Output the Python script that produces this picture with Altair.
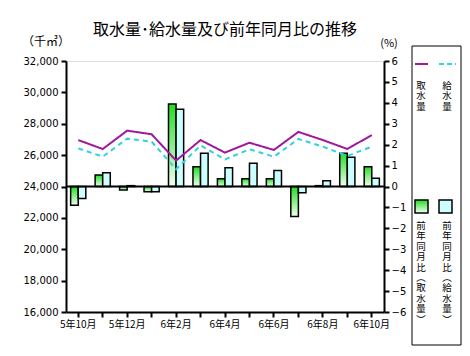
import altair as alt
import pandas as pd

months = ["5年10月", "5年11月", "5年12月", "6年1月", "6年2月", "6年3月", "6年4月",
          "6年5月", "6年6月", "6年7月", "6年8月", "6年9月", "6年10月"]
shown_labels = ["5年10月", "5年12月", "6年2月", "6年4月", "6年6月", "6年8月", "6年10月"]
intake = [26960, 26390, 27560, 27330, 25650, 26960, 26160, 26790, 26330, 27480, 26960, 26390, 27280]
supply = [26430, 25900, 27050, 26860, 25100, 26620, 25730, 26370, 25900, 27030, 26540, 25950, 26540]
intake_yoy = [-0.90, 0.55, -0.17, -0.25, 3.94, 0.94, 0.37, 0.37, 0.37, -1.44, 0.04, 1.59, 0.95]
supply_yoy = [-0.57, 0.66, 0.04, -0.25, 3.69, 1.59, 0.90, 1.11, 0.76, -0.30, 0.28, 1.40, 0.39]
baseline_value = [24000]

left_ticks = list(range(16000, 32001, 2000))
right_ticks = list(range(-6, 7))

JP = "Noto Sans CJK JP"
NUM = "DejaVu Sans"
PURPLE = "#a0189c"
CYAN = "#33d0dd"
LCYAN = "#ccffff"

green_grad = alt.LinearGradient(
    gradient="linear", x1=0, x2=0, y1=0, y2=1,
    stops=[alt.GradientStop(offset=0, color="#22dd22"),
           alt.GradientStop(offset=1, color="#f0fff0")])

lines_df = pd.DataFrame({
    "month": months * 2,
    "series": ["取水量"] * 13 + ["給水量"] * 13,
    "value": intake + supply,
})
bars_df = pd.DataFrame({
    "month": months * 2,
    "series": ["取水量"] * 13 + ["給水量"] * 13,
    "pct": intake_yoy + supply_yoy,
})

xscale = alt.Scale(domain=months, paddingInner=0.38, paddingOuter=0.19)
label_list = "[" + ",".join("'" + s + "'" for s in shown_labels) + "]"
xaxis = alt.Axis(title=None, labelAngle=0, labelFont=JP, labelFontSize=10,
                 labelColor="black", tickColor="black", tickSize=5, tickWidth=2,
                 domainColor="black", domainWidth=2, labelPadding=2,
                 labelExpr=f"indexof({label_list}, datum.value) >= 0 ? datum.value : ''")

left_scale = alt.Scale(domain=[16000, 32000], nice=False, zero=False)
left_axis = alt.Axis(orient="left", title=None, values=left_ticks, format=",.0f", grid=False,
                     labelFont=NUM, labelFontSize=10, labelColor="black",
                     tickColor="black", tickSize=5, tickWidth=2,
                     domainColor="black", domainWidth=2, labelPadding=3)

bars = alt.Chart(bars_df).mark_bar(stroke="black", strokeWidth=1.5).encode(
    x=alt.X("month:N", sort=months, scale=xscale, axis=xaxis),
    xOffset=alt.XOffset("series:N", sort=["取水量", "給水量"]),
    y=alt.Y("pct:Q", scale=alt.Scale(domain=[-6, 6], nice=False),
            axis=alt.Axis(orient="right", title=None, values=right_ticks, format="d", grid=False,
                          labelFont=NUM, labelFontSize=10, labelColor="black",
                          tickColor="black", tickSize=5, tickWidth=2,
                          domainColor="black", domainWidth=2, labelPadding=2)),
    fill=alt.condition("datum.series == '取水量'", alt.value(green_grad), alt.value(LCYAN)),
)

zero = alt.Chart(pd.DataFrame({"value": baseline_value})).mark_rule(color="black", strokeWidth=2).encode(
    y=alt.Y("value:Q", scale=left_scale, axis=left_axis),
)

lines = alt.Chart(lines_df).mark_line(strokeWidth=2).encode(
    x=alt.X("month:N", sort=months, scale=xscale, axis=xaxis),
    y=alt.Y("value:Q", scale=left_scale, axis=left_axis),
    color=alt.Color("series:N", scale=alt.Scale(domain=["取水量", "給水量"], range=[PURPLE, CYAN]),
                    legend=None),
    strokeDash=alt.StrokeDash("series:N", scale=alt.Scale(domain=["取水量", "給水量"],
                                                           range=[[1, 0], [5, 4]]), legend=None),
)

one = pd.DataFrame({"a": [0]})


def txt(s, x, y, size=10, lh=None, align="center", baseline="top"):
    kw = dict(font=JP, fontSize=size, align=align, baseline=baseline, color="black")
    if lh is not None:
        kw["lineBreak"] = "\n"
        kw["lineHeight"] = lh
    return alt.Chart(one).mark_text(**kw).encode(
        x=alt.value(x), y=alt.value(y), text=alt.value(s))


legend_parts = [
    alt.Chart(one).mark_rect(fill="white", stroke="black", strokeWidth=1).encode(
        x=alt.value(346), x2=alt.value(395), y=alt.value(-15), y2=alt.value(284)),
    alt.Chart(one).mark_rule(color=PURPLE, strokeWidth=2).encode(
        x=alt.value(349), x2=alt.value(362), y=alt.value(3)),
    alt.Chart(one).mark_rule(color=CYAN, strokeWidth=2, strokeDash=[5, 3]).encode(
        x=alt.value(373), x2=alt.value(390), y=alt.value(3)),
    txt("取\n水\n量", 355, 20, size=9.5, lh=10.4),
    txt("給\n水\n量", 381, 20, size=9.5, lh=10.4),
    alt.Chart(one).mark_rect(fill=green_grad, stroke="black", strokeWidth=1.5).encode(
        x=alt.value(349), x2=alt.value(362), y=alt.value(139), y2=alt.value(152)),
    alt.Chart(one).mark_rect(fill=LCYAN, stroke="black", strokeWidth=1.5).encode(
        x=alt.value(373), x2=alt.value(386), y=alt.value(139), y2=alt.value(152)),
    txt("前\n年\n同\n月\n比\n︵\n取\n水\n量\n︶", 355, 160, size=9.5, lh=10.4),
    txt("前\n年\n同\n月\n比\n︵\n給\n水\n量\n︶", 381, 160, size=9.5, lh=10.4),
    txt("取水量･給水量及び前年同月比の推移", 159, -31, size=16, baseline="middle"),
    txt("（千㎥）", -20, -19, size=12, baseline="middle"),
    txt("(%)", 323, -17, size=11, baseline="middle"),
]

chart = alt.layer(
    bars,
    alt.layer(zero, lines),
    *legend_parts,
).resolve_scale(y="independent").properties(
    width=318, height=251,
    autosize=alt.AutoSizeParams(type="none"),
    padding={"left": 58, "top": 53, "right": 78, "bottom": 36},
).configure_view(stroke="black", strokeWidth=2).configure(background="white")

chart.save("out.html", embed_options={"renderer": "svg", "actions": False})
